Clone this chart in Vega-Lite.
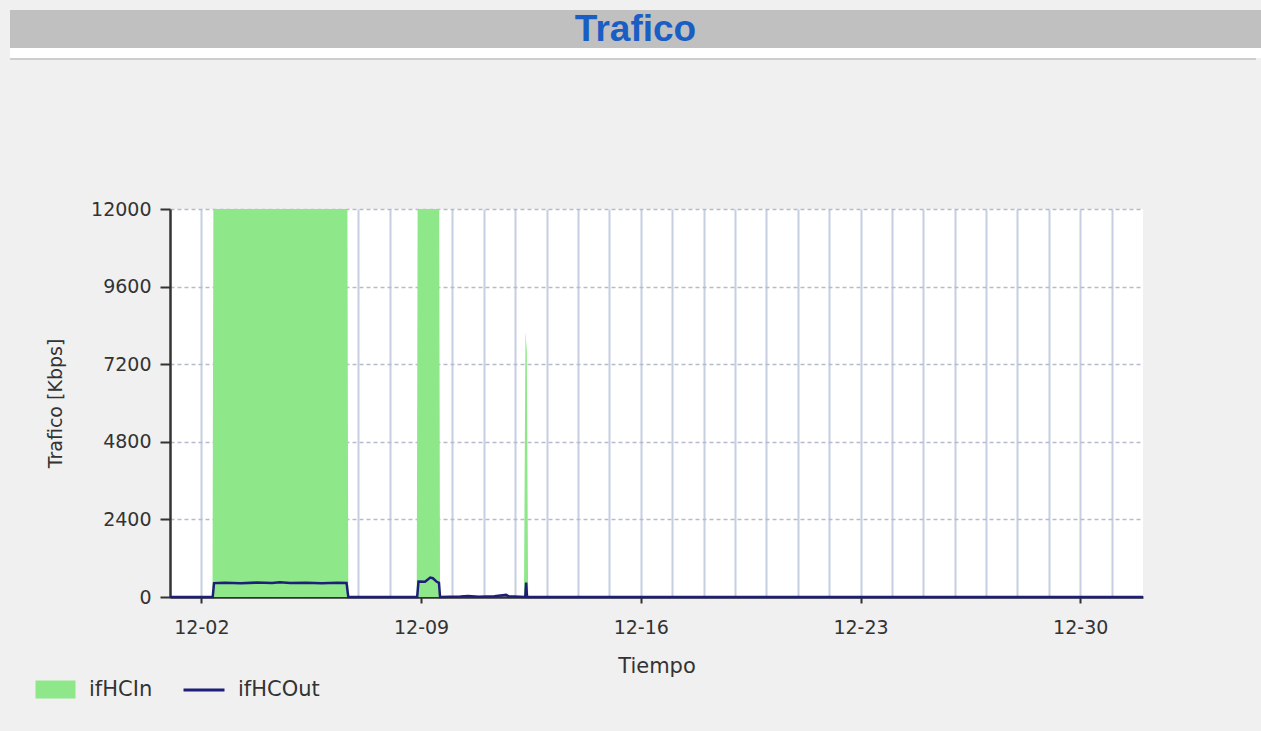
{
  "$schema": "https://vega.github.io/schema/vega-lite/v6.json",
  "padding": {"left": 10, "top": 10, "right": 0, "bottom": 7},
  "background": "#f0f0f0",
  "spacing": 140,
  "config": {"view": {"stroke": null}, "font": "DejaVu Sans"},
  "vconcat": [
    {
      "spacing": 0,
      "vconcat": [
        {
          "width": 1251,
          "height": 38,
          "view": {"fill": "#c0c0c0", "stroke": null},
          "data": {"values": [{"title": "Trafico"}]},
          "mark": {"type": "text", "font": "Liberation Sans", "fontSize": 37, "fontWeight": "bold", "color": "#1a5ec4", "baseline": "middle", "align": "center", "dy": 1},
          "encoding": {"text": {"field": "title"}}
        },
        {
          "width": 1251,
          "height": 10,
          "view": {"fill": "#ffffff", "stroke": null},
          "data": {"values": []},
          "mark": {"type": "point", "opacity": 0}
        },
        {
          "width": 1246,
          "height": 2,
          "view": {"fill": "#cdcdcd", "stroke": null},
          "data": {"values": []},
          "mark": {"type": "point", "opacity": 0}
        }
      ]
    },
    {
      "spacing": 35,
      "hconcat": [
        {
          "width": 1,
          "height": 1,
          "data": {"values": []},
          "mark": {"type": "point", "opacity": 0}
        },
        {
          "width": 973,
          "height": 388,
          "view": {"fill": "white", "stroke": null},
          "data": {
            "values": [
              {"t": "2024-12-01T00:00", "series": "ifHCIn", "v": 0},
              {"t": "2024-12-02T08:30", "series": "ifHCIn", "v": 0},
              {"t": "2024-12-02T09:10", "series": "ifHCIn", "v": 12000},
              {"t": "2024-12-06T15:40", "series": "ifHCIn", "v": 12000},
              {"t": "2024-12-06T16:20", "series": "ifHCIn", "v": 0},
              {"t": "2024-12-08T20:40", "series": "ifHCIn", "v": 0},
              {"t": "2024-12-08T21:20", "series": "ifHCIn", "v": 12000},
              {"t": "2024-12-09T13:50", "series": "ifHCIn", "v": 12000},
              {"t": "2024-12-09T14:30", "series": "ifHCIn", "v": 0},
              {"t": "2024-12-12T06:40", "series": "ifHCIn", "v": 0},
              {"t": "2024-12-12T07:50", "series": "ifHCIn", "v": 8200},
              {"t": "2024-12-12T08:50", "series": "ifHCIn", "v": 7600},
              {"t": "2024-12-12T09:50", "series": "ifHCIn", "v": 0},
              {"t": "2025-01-01T00:00", "series": "ifHCIn", "v": 0},
              {"t": "2024-12-01T00:00", "series": "ifHCOut", "v": 0},
              {"t": "2024-12-02T08:40", "series": "ifHCOut", "v": 0},
              {"t": "2024-12-02T09:40", "series": "ifHCOut", "v": 430},
              {"t": "2024-12-02T18:00", "series": "ifHCOut", "v": 440},
              {"t": "2024-12-03T06:00", "series": "ifHCOut", "v": 425},
              {"t": "2024-12-03T18:00", "series": "ifHCOut", "v": 445},
              {"t": "2024-12-04T06:00", "series": "ifHCOut", "v": 430},
              {"t": "2024-12-04T12:00", "series": "ifHCOut", "v": 455},
              {"t": "2024-12-04T20:00", "series": "ifHCOut", "v": 430},
              {"t": "2024-12-05T08:00", "series": "ifHCOut", "v": 440},
              {"t": "2024-12-05T20:00", "series": "ifHCOut", "v": 428},
              {"t": "2024-12-06T08:00", "series": "ifHCOut", "v": 440},
              {"t": "2024-12-06T15:00", "series": "ifHCOut", "v": 435},
              {"t": "2024-12-06T16:20", "series": "ifHCOut", "v": 0},
              {"t": "2024-12-08T21:00", "series": "ifHCOut", "v": 0},
              {"t": "2024-12-08T22:00", "series": "ifHCOut", "v": 480},
              {"t": "2024-12-09T03:00", "series": "ifHCOut", "v": 470},
              {"t": "2024-12-09T07:00", "series": "ifHCOut", "v": 600},
              {"t": "2024-12-09T09:00", "series": "ifHCOut", "v": 580},
              {"t": "2024-12-09T12:00", "series": "ifHCOut", "v": 470},
              {"t": "2024-12-09T13:40", "series": "ifHCOut", "v": 440},
              {"t": "2024-12-09T14:30", "series": "ifHCOut", "v": 0},
              {"t": "2024-12-10T06:00", "series": "ifHCOut", "v": 15},
              {"t": "2024-12-10T12:00", "series": "ifHCOut", "v": 30},
              {"t": "2024-12-10T20:00", "series": "ifHCOut", "v": 10},
              {"t": "2024-12-11T08:00", "series": "ifHCOut", "v": 25},
              {"t": "2024-12-11T17:00", "series": "ifHCOut", "v": 70},
              {"t": "2024-12-11T19:00", "series": "ifHCOut", "v": 20},
              {"t": "2024-12-12T07:40", "series": "ifHCOut", "v": 0},
              {"t": "2024-12-12T08:20", "series": "ifHCOut", "v": 450},
              {"t": "2024-12-12T09:00", "series": "ifHCOut", "v": 0},
              {"t": "2024-12-20T00:00", "series": "ifHCOut", "v": 0},
              {"t": "2025-01-01T00:00", "series": "ifHCOut", "v": 0}
            ]
          },
          "encoding": {
            "x": {
              "field": "t",
              "type": "temporal",
              "scale": {"domain": [{"year": 2024, "month": 12, "date": 1}, {"year": 2025, "month": 1, "date": 1}]},
              "axis": {
                "title": "Tiempo",
                "tickCount": {"interval": "day", "step": 1},
                "labelExpr": "indexof([2,9,16,23,30], date(datum.value)) >= 0 ? timeFormat(datum.value, '%m-%d') : ''",
                "labelOverlap": false,
                "labelFlush": false,
                "grid": true,
                "gridColor": "#c6cee2",
                "gridWidth": 2,
                "gridOpacity": {"condition": {"test": "date(datum.value) == 1", "value": 0}, "value": 1},
                "tickOpacity": {"condition": {"test": "indexof([2,9,16,23,30], date(datum.value)) >= 0", "value": 1}, "value": 0},
                "tickColor": "#333333",
                "tickSize": 6,
                "tickWidth": 2,
                "domainColor": "#333333",
                "domainWidth": 2.5,
                "labelFontSize": 19,
                "labelColor": "#333333",
                "labelPadding": 15,
                "titleFontSize": 21,
                "titleFontWeight": "normal",
                "titleColor": "#333333",
                "titlePadding": 18
              }
            },
            "y": {
              "field": "v",
              "type": "quantitative",
              "scale": {"domain": [0, 12000], "nice": false},
              "axis": {
                "title": "Trafico [Kbps]",
                "values": [0, 2400, 4800, 7200, 9600, 12000],
                "format": "d",
                "grid": true,
                "gridColor": "#b4bccc",
                "gridDash": [4, 3],
                "gridWidth": 1.5,
                "tickColor": "#333333",
                "tickSize": 10,
                "tickWidth": 2,
                "domainColor": "#333333",
                "domainWidth": 2.5,
                "labelFontSize": 19,
                "labelColor": "#333333",
                "labelPadding": 9,
                "titleFontSize": 19,
                "titleFontWeight": "normal",
                "titleColor": "#333333",
                "titlePadding": 25
              }
            }
          },
          "layer": [
            {
              "transform": [{"filter": "datum.series == 'ifHCIn'"}],
              "mark": {"type": "area", "fillOpacity": 1, "interpolate": "linear"},
              "encoding": {
                "fill": {
                  "field": "series",
                  "type": "nominal",
                  "scale": {"domain": ["ifHCIn"], "range": ["#8ee88a"]},
                  "legend": {
                    "orient": "none",
                    "legendX": 0,
                    "legendY": 644,
                    "title": null,
                    "padding": 25,
                    "symbolType": "M-2,-0.9L2,-0.9L2,0.9L-2,0.9Z",
                    "symbolSize": 400,
                    "symbolStrokeWidth": 0,
                    "symbolOffset": 10,
                    "labelFontSize": 21,
                    "labelColor": "#333333",
                    "labelOffset": 23
                  }
                }
              }
            },
            {
              "transform": [{"filter": "datum.series == 'ifHCOut'"}],
              "mark": {"type": "line", "strokeWidth": 2.5, "interpolate": "linear"},
              "encoding": {
                "stroke": {
                  "field": "series",
                  "type": "nominal",
                  "scale": {"domain": ["ifHCOut"], "range": ["#1e1e78"]},
                  "legend": {
                    "orient": "none",
                    "legendX": 172,
                    "legendY": 658,
                    "title": null,
                    "padding": 0,
                    "symbolType": "stroke",
                    "symbolSize": 1681,
                    "symbolStrokeWidth": 3,
                    "labelFontSize": 21,
                    "labelColor": "#333333",
                    "labelOffset": 12
                  }
                }
              }
            }
          ]
        }
      ]
    }
  ]
}
